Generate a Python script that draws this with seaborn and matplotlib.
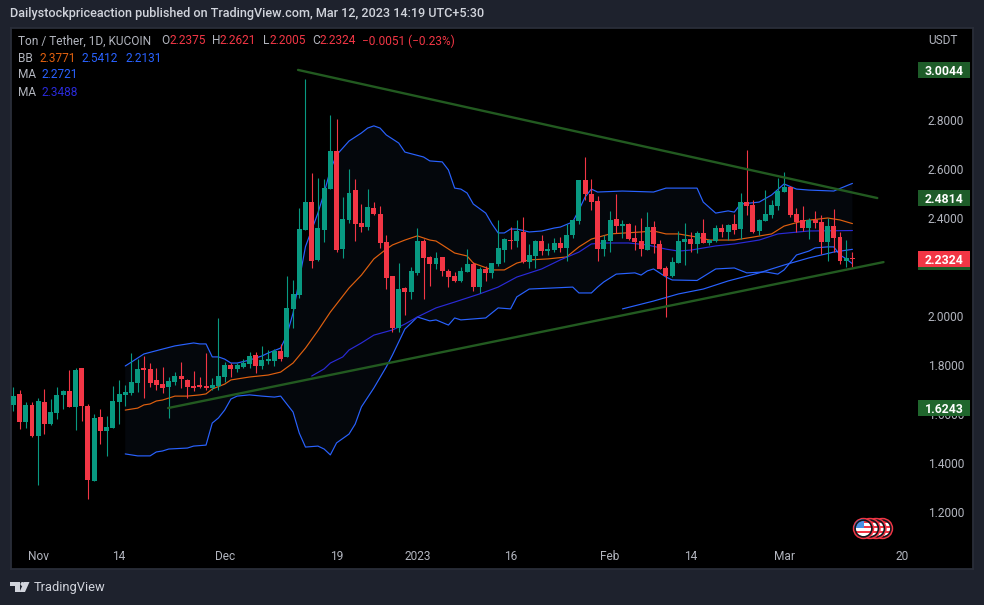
import numpy as np
import matplotlib
matplotlib.use('Agg')
import matplotlib.pyplot as plt
from matplotlib.patches import Circle, Polygon, Rectangle
import seaborn as sns

# Daily candles, first one is Oct 28 (day -4, day 0 = Nov 1)
opens = [1.637, 1.682, 1.568, 1.637, 1.511, 1.649, 1.559, 1.604, 1.678, 1.694,
         1.629, 1.788, 1.633, 1.327, 1.588, 1.531, 1.543, 1.649, 1.678, 1.686,
         1.727, 1.788, 1.784, 1.739, 1.723, 1.710, 1.731, 1.755, 1.739, 1.715,
         1.719, 1.715, 1.706, 1.715, 1.751, 1.800, 1.784, 1.792, 1.804, 1.841,
         1.796, 1.817, 1.817, 1.857, 1.833, 2.029, 2.086, 2.351, 2.465, 2.229,
         2.351, 2.518, 2.674, 2.274, 2.392, 2.514, 2.380, 2.363, 2.441, 2.416,
         2.302, 2.163, 1.951, 2.115, 2.098, 2.176, 2.306, 2.241, 2.212, 2.241,
         2.184, 2.163, 2.143, 2.180, 2.212, 2.119, 2.192, 2.176, 2.212, 2.270,
         2.310, 2.306, 2.343, 2.221, 2.245, 2.306, 2.265, 2.270, 2.298, 2.278,
         2.331, 2.388, 2.555, 2.498, 2.469, 2.273, 2.306, 2.396, 2.367, 2.375,
         2.318, 2.306, 2.269, 2.363, 2.294, 2.196, 2.163, 2.216, 2.302, 2.314,
         2.294, 2.339, 2.298, 2.306, 2.359, 2.343, 2.375, 2.355, 2.465, 2.453,
         2.347, 2.388, 2.412, 2.449, 2.506, 2.526, 2.416, 2.392, 2.359, 2.392,
         2.384, 2.302, 2.367, 2.322, 2.224, 2.2375]
highs = [1.710, 1.698, 1.649, 1.649, 1.666, 1.702, 1.661, 1.710, 1.698, 1.780,
         1.788, 1.788, 1.641, 1.600, 1.621, 1.592, 1.715, 1.739, 1.719, 1.849,
         1.825, 1.837, 1.808, 1.788, 1.792, 1.751, 1.772, 1.812, 1.743, 1.776,
         1.751, 1.849, 1.747, 1.992, 1.812, 1.808, 1.808, 1.825, 1.853, 1.853,
         1.878, 1.861, 1.865, 1.886, 2.163, 2.147, 2.441, 2.967, 2.584, 2.563,
         2.559, 2.820, 2.804, 2.486, 2.600, 2.559, 2.457, 2.518, 2.465, 2.449,
         2.331, 2.163, 2.217, 2.119, 2.200, 2.359, 2.314, 2.245, 2.261, 2.241,
         2.192, 2.180, 2.200, 2.274, 2.220, 2.200, 2.204, 2.217, 2.392, 2.319,
         2.363, 2.392, 2.404, 2.294, 2.310, 2.331, 2.298, 2.319, 2.323, 2.376,
         2.392, 2.555, 2.649, 2.559, 2.490, 2.331, 2.429, 2.498, 2.392, 2.380,
         2.371, 2.400, 2.424, 2.388, 2.310, 2.204, 2.241, 2.347, 2.380, 2.343,
         2.347, 2.396, 2.314, 2.371, 2.375, 2.375, 2.416, 2.502, 2.677, 2.473,
         2.396, 2.514, 2.473, 2.563, 2.588, 2.530, 2.441, 2.449, 2.400, 2.429,
         2.412, 2.400, 2.437, 2.343, 2.310, 2.2621]
lows = [1.612, 1.539, 1.543, 1.508, 1.311, 1.519, 1.555, 1.580, 1.621, 1.629,
        1.535, 1.572, 1.253, 1.327, 1.478, 1.429, 1.543, 1.559, 1.633, 1.678,
        1.690, 1.666, 1.710, 1.698, 1.686, 1.584, 1.719, 1.706, 1.666, 1.694,
        1.706, 1.698, 1.698, 1.698, 1.731, 1.751, 1.772, 1.788, 1.788, 1.768,
        1.784, 1.804, 1.796, 1.817, 1.833, 1.951, 2.074, 2.351, 2.196, 2.225,
        2.302, 2.518, 2.261, 2.237, 2.380, 2.306, 2.343, 2.351, 2.412, 2.278,
        2.110, 1.935, 1.935, 2.004, 2.070, 2.168, 2.070, 2.123, 2.192, 2.163,
        2.119, 2.139, 2.139, 2.180, 2.102, 2.094, 2.143, 2.155, 2.204, 2.221,
        2.274, 2.282, 2.217, 2.196, 2.196, 2.249, 2.249, 2.261, 2.261, 2.225,
        2.319, 2.376, 2.474, 2.433, 2.224, 2.245, 2.261, 2.339, 2.318, 2.310,
        2.269, 2.245, 2.269, 2.257, 2.192, 1.996, 2.159, 2.216, 2.208, 2.261,
        2.257, 2.298, 2.290, 2.302, 2.322, 2.310, 2.335, 2.314, 2.412, 2.339,
        2.331, 2.388, 2.400, 2.433, 2.506, 2.404, 2.343, 2.347, 2.314, 2.359,
        2.253, 2.224, 2.261, 2.212, 2.200, 2.2005]
closes = [1.674, 1.568, 1.637, 1.511, 1.653, 1.559, 1.608, 1.678, 1.694, 1.629,
          1.780, 1.633, 1.331, 1.584, 1.531, 1.547, 1.653, 1.682, 1.690, 1.731,
          1.784, 1.780, 1.727, 1.719, 1.706, 1.735, 1.755, 1.743, 1.710, 1.706,
          1.710, 1.706, 1.719, 1.755, 1.800, 1.784, 1.800, 1.808, 1.837, 1.796,
          1.821, 1.825, 1.857, 1.825, 2.033, 2.090, 2.355, 2.465, 2.225, 2.359,
          2.523, 2.674, 2.270, 2.396, 2.502, 2.376, 2.363, 2.445, 2.416, 2.298,
          2.155, 1.951, 2.110, 2.098, 2.184, 2.306, 2.237, 2.212, 2.237, 2.184,
          2.159, 2.143, 2.184, 2.212, 2.119, 2.192, 2.176, 2.217, 2.278, 2.314,
          2.306, 2.347, 2.221, 2.249, 2.306, 2.265, 2.274, 2.298, 2.278, 2.331,
          2.392, 2.555, 2.498, 2.465, 2.273, 2.310, 2.392, 2.367, 2.375, 2.314,
          2.302, 2.273, 2.363, 2.294, 2.192, 2.163, 2.220, 2.306, 2.314, 2.294,
          2.339, 2.298, 2.310, 2.359, 2.343, 2.371, 2.351, 2.465, 2.449, 2.343,
          2.392, 2.416, 2.453, 2.510, 2.526, 2.412, 2.384, 2.359, 2.392, 2.380,
          2.302, 2.367, 2.318, 2.224, 2.237, 2.2324]

# Bollinger bands
upper_days = [14, 15, 17, 20, 22, 25, 26, 27, 28, 29, 30, 31, 32, 34, 36, 37, 39, 40, 41, 43,
              45, 46, 47, 48, 50, 52, 53, 54, 55, 56, 58, 59, 62, 63, 65, 66, 67, 68, 69, 70,
              72, 73, 74, 75, 76, 77, 79, 81, 83, 84, 86, 87, 88, 89, 90, 94, 99, 101, 106, 107,
              109, 111, 112, 113, 116, 118, 120, 122, 124, 128, 130, 131]
upper_band = [1.796, 1.812, 1.845, 1.865, 1.878, 1.890, 1.886, 1.886, 1.833, 1.833, 1.824, 1.808,
              1.808, 1.820, 1.837, 1.849, 1.869, 1.922, 2.012, 2.283, 2.420, 2.502, 2.596, 2.657,
              2.714, 2.747, 2.767, 2.776, 2.767, 2.739, 2.706, 2.669, 2.649, 2.633, 2.629, 2.596,
              2.522, 2.518, 2.502, 2.457, 2.420, 2.376, 2.339, 2.339, 2.355, 2.355, 2.343, 2.347,
              2.359, 2.363, 2.384, 2.433, 2.486, 2.518, 2.506, 2.510, 2.506, 2.522, 2.522, 2.465,
              2.420, 2.429, 2.424, 2.457, 2.465, 2.494, 2.539, 2.518, 2.514, 2.510, 2.531, 2.5412]
lower_days = [14, 15, 16, 18, 19, 20, 21, 24, 25, 27, 28, 29, 30, 31, 32, 34, 36, 38, 39, 41,
              42, 43, 45, 46, 47, 48, 50, 51, 52, 54, 56, 57, 58, 59, 60, 61, 63, 64, 66, 67,
              68, 72, 74, 76, 77, 79, 86, 87, 89, 90, 91, 93, 96, 97, 98, 99, 101, 102, 106, 109,
              112, 114, 117, 119, 120, 122, 124, 125, 127, 128, 129, 130, 131]
lower_band = [1.437, 1.433, 1.429, 1.429, 1.445, 1.449, 1.457, 1.461, 1.469, 1.473, 1.563, 1.584,
              1.616, 1.661, 1.673, 1.678, 1.673, 1.669, 1.673, 1.608, 1.522, 1.465, 1.469, 1.457,
              1.433, 1.482, 1.518, 1.559, 1.629, 1.706, 1.792, 1.841, 1.894, 1.947, 1.971, 1.996,
              1.980, 1.984, 1.963, 1.992, 1.984, 1.992, 2.033, 2.029, 2.078, 2.110, 2.118, 2.094,
              2.094, 2.118, 2.139, 2.171, 2.176, 2.167, 2.184, 2.192, 2.159, 2.147, 2.145, 2.192,
              2.196, 2.176, 2.180, 2.171, 2.188, 2.249, 2.265, 2.278, 2.282, 2.282, 2.249, 2.233,
              2.2131]
basis_days = [14, 16, 17, 18, 19, 20, 22, 24, 26, 27, 28, 30, 31, 34, 37, 39, 41, 43, 45, 47,
              50, 52, 54, 56, 57, 59, 61, 63, 64, 65, 67, 69, 70, 73, 75, 77, 79, 82, 85, 87,
              89, 92, 97, 99, 101, 103, 106, 108, 112, 115, 118, 120, 123, 127, 129, 131]
basis_line = [1.616, 1.624, 1.637, 1.641, 1.653, 1.657, 1.673, 1.673, 1.678, 1.682, 1.702, 1.722,
              1.739, 1.751, 1.759, 1.771, 1.808, 1.869, 1.940, 2.016, 2.114, 2.167, 2.233, 2.273,
              2.290, 2.310, 2.327, 2.310, 2.306, 2.290, 2.257, 2.245, 2.216, 2.188, 2.188, 2.216,
              2.229, 2.233, 2.241, 2.282, 2.314, 2.335, 2.343, 2.347, 2.335, 2.335, 2.322, 2.310,
              2.310, 2.322, 2.335, 2.367, 2.388, 2.400, 2.392, 2.3771]

# Moving averages
ma_fast_days = [94, 99, 103, 107, 111, 116, 120, 124, 128, 131]
ma_fast = [2.029, 2.061, 2.090, 2.110, 2.143, 2.176, 2.208, 2.237, 2.261, 2.2721]
ma_slow_days = [44, 46, 47, 49, 50, 52, 54, 57, 59, 61, 64, 67, 71, 74, 77, 81, 84, 87, 89, 91,
                95, 98, 101, 103, 105, 109, 112, 116, 119, 124, 131]
ma_slow = [1.755, 1.784, 1.808, 1.833, 1.861, 1.890, 1.922, 1.943, 1.967, 1.996, 2.033, 2.057,
           2.090, 2.118, 2.159, 2.192, 2.229, 2.261, 2.294, 2.298, 2.298, 2.290, 2.273, 2.265,
           2.269, 2.286, 2.294, 2.310, 2.335, 2.347, 2.3488]

# Trend lines drawn by the author
trend_top_days = [41.8, 135]
trend_top = [3.0044, 2.4814]
trend_bottom_days = [20.9, 136]
trend_bottom = [1.6243, 2.220]

# 2.2000 sits fully behind the last price tag
price_ticks = [1.2, 1.4, 1.6, 1.8, 2.0, 2.4, 2.6, 2.8]
date_ticks = [0, 13, 30, 48, 61, 76, 92, 105, 120, 139]
date_labels = ['Nov', '14', 'Dec', '19', '2023', '16', 'Feb', '14', 'Mar', '20']

GREEN = '#089981'
RED = '#f23645'
BLUE = '#2962ff'
INDIGO = '#2a2ad8'
ORANGE = '#e0600f'
TREND = '#225a20'
TEXT = '#b2b5be'
BG = '#1e222d'

sns.set_theme(style='dark')
plt.rcParams['font.family'] = ['Roboto', 'DejaVu Sans']

fig = plt.figure(figsize=(9.84, 6.05), dpi=100, facecolor=BG)
ax = fig.add_axes([11 / 984, 1 - 569 / 605, 962 / 984, 541 / 605], facecolor='black')

days = np.arange(len(opens)) - 4
opens = np.array(opens)
closes = np.array(closes)

# band fill first, lines over it, candles on top
ax.fill(np.r_[upper_days, lower_days[::-1]], np.r_[upper_band, lower_band[::-1]],
        color='#04070c', lw=0, zorder=1)
for xs, ys, col in [(upper_days, upper_band, BLUE), (lower_days, lower_band, BLUE),
                    (basis_days, basis_line, ORANGE), (ma_fast_days, ma_fast, BLUE),
                    (ma_slow_days, ma_slow, INDIGO)]:
    sns.lineplot(x=xs, y=ys, ax=ax, color=col, lw=0.85, estimator=None, sort=False, zorder=2)

colors = np.where(closes >= opens, GREEN, RED)
ax.vlines(days, lows, highs, colors=colors, lw=0.8, zorder=3)
ax.bar(days, np.abs(closes - opens), bottom=np.minimum(opens, closes), width=0.8,
       color=colors, lw=0, zorder=3)

sns.lineplot(x=trend_top_days, y=trend_top, ax=ax, color=TREND, lw=1.7, estimator=None, zorder=4)
sns.lineplot(x=trend_bottom_days, y=trend_bottom, ax=ax, color=TREND, lw=1.7, estimator=None, zorder=4)

ax.set_xlim(-4.38, 150.4)
ax.set_ylim(0.9673, 3.1755)
ax.grid(False)
ax.set_xticks(date_ticks, date_labels)
ax.yaxis.tick_right()
ax.set_yticks(price_ticks, [f'{p:.4f}' for p in price_ticks])
ax.tick_params(axis='x', length=0, pad=-14, labelsize=8.6, colors=TEXT)
ax.tick_params(axis='y', length=0, pad=-32.5, labelsize=8.6, colors=TEXT)
for spine in ax.spines.values():
    spine.set_color('#2a2e39')
    spine.set_linewidth(1.3)

# price tags on the scale
tags = [(3.0044, '3.0044', '#1e5c29'), (2.4814, '2.4814', '#1e5c29'),
        (2.2324, '2.2324', RED), (1.6243, '1.6243', '#20662d')]
trans = ax.get_yaxis_transform()
tag_x = (918 - 11) / 962
tag_w = 52 / 962
tag_h = 16.5 / 245
for price, label, col in tags:
    if col == RED:
        ax.add_patch(Rectangle((tag_x, price - tag_h / 2 - 3 / 245), tag_w, tag_h, transform=trans,
                               fc='#1e5c29', lw=0, zorder=5))
    ax.add_patch(Rectangle((tag_x, price - tag_h / 2), tag_w, tag_h, transform=trans,
                           fc=col, lw=0, zorder=5))
    ax.text(tag_x + tag_w / 2, price, label, transform=trans, color='white', fontsize=8.8,
            fontweight='bold', ha='center', va='center_baseline', zorder=6)

# everything around the chart goes on a pixel overlay
over = fig.add_axes([0, 0, 1, 1], facecolor='none', zorder=10)
over.set_xlim(0, 984)
over.set_ylim(605, 0)
over.axis('off')


def put(x, y, s, color=TEXT, size=8.6, **kw):
    over.text(x, y, s, color=color, fontsize=size, va='center', ha='left', **kw)


put(10, 13, 'Dailystockpriceaction published on TradingView.com, Mar 12, 2023 14:19 UTC+5:30',
    color='#d1d4dc', size=9.05, fontweight='medium')
put(928, 40, 'USDT')

put(18, 41, 'Ton / Tether, 1D, KUCOIN')
for x, s in [(161, 'O'), (212, 'H'), (263, 'L'), (312, 'C')]:
    put(x, 41, s)
for x, s in [(169, '2.2375'), (220, '2.2621'), (270, '2.2005'), (320, '2.2324'),
             (362, '\u22120.0051 (\u22120.23%)')]:
    put(x, 41, s, color=RED)
put(18, 58, 'BB')
put(39, 58, '2.3771', color=ORANGE)
put(82, 58, '2.5412', color=BLUE)
put(125, 58, '2.2131', color=BLUE)
put(18, 75, 'MA')
put(41, 75, '2.2721', color=BLUE)
put(18, 92, 'MA')
put(41, 92, '2.3488', color=INDIGO)

# flag badges
for cx in [882.5, 876, 870, 863.5]:
    disc = Circle((cx, 528.5), 9.6, fc='white', ec=RED, lw=1.6)
    over.add_patch(disc)
    for sy in [521, 526, 531, 536]:
        stripe = Rectangle((cx - 10, sy), 20, 2.4, fc=RED, lw=0)
        over.add_patch(stripe)
        stripe.set_clip_path(disc)
    if cx == 863.5:
        canton = Rectangle((cx - 10, 519), 10, 9, fc='#4a90e2', lw=0)
        over.add_patch(canton)
        canton.set_clip_path(disc)
    over.add_patch(Circle((cx, 528.5), 8.4, fc='none', ec='#14161c', lw=1.2))

# TradingView mark
over.add_patch(Polygon([(10, 582), (20, 582), (20, 592), (15, 592), (15, 586), (10, 586)], fc='#d1d4dc', lw=0))
over.add_patch(Circle((22.5, 584), 2, fc='#d1d4dc', lw=0))
over.add_patch(Polygon([(24, 582), (29.5, 582), (25, 592), (19.5, 592)], fc='#d1d4dc', lw=0))
put(34, 587.5, 'TradingView', color='#d1d4dc', size=9.3)

fig.savefig('out.png', dpi=100, facecolor=BG)
